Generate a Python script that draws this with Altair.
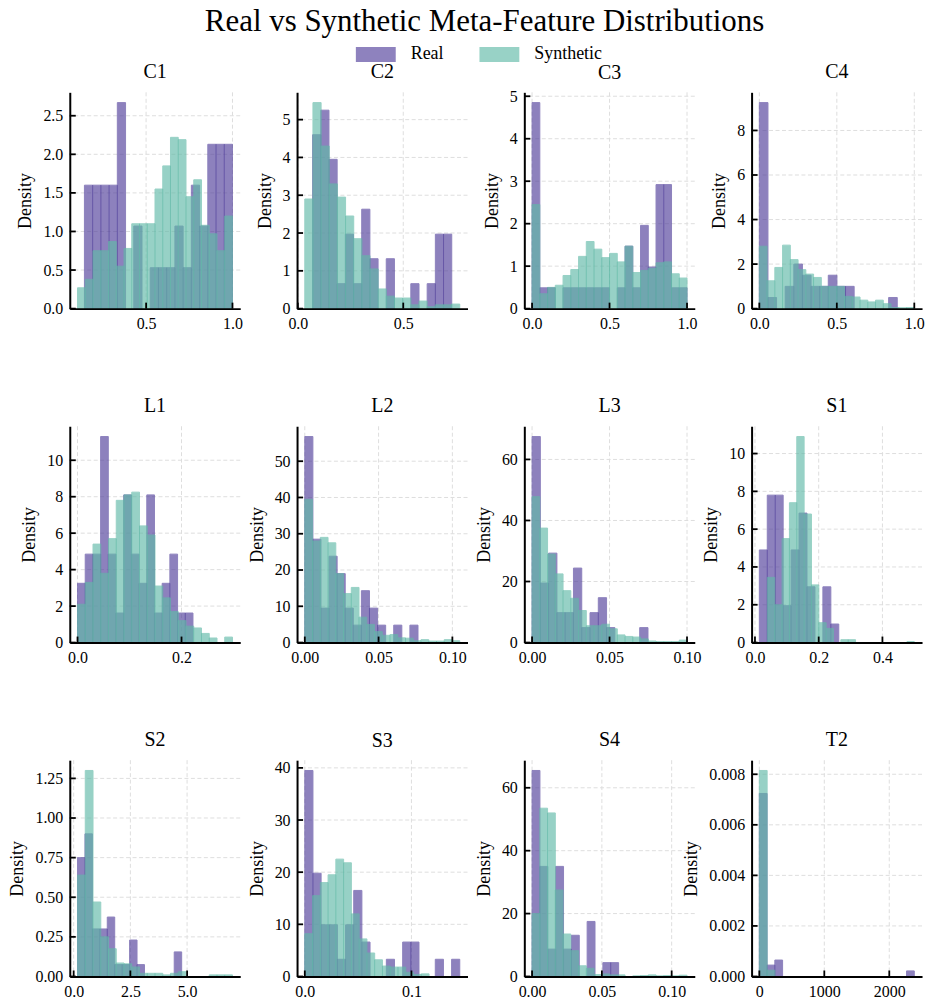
import altair as alt
import pandas as pd

# ---- histogram densities per meta-feature (bins are equal-width over each range) ----
C1_REAL = [1.6, 1.6, 1.6, 1.6, 2.67, 0, 1.07, 0, 0.53, 0.53, 0.53, 1.07, 0.53, 1.6, 1.07, 2.13, 2.13, 2.13]
C1_REAL_RANGE = (0.143, 1.0)
C1_SYN = [0.27, 0.38, 0.75, 0.75, 0.87, 0.55, 0.78, 1.1, 1.1, 1.1, 1.55, 1.85, 2.22, 2.19, 1.45, 1.67, 1.08, 0.97, 0.75, 1.2]
C1_SYN_RANGE = (0.103, 1.0)

C2_REAL = [4.6, 5.25, 3.95, 0.66, 1.97, 0.66, 2.63, 1.32, 0, 1.32, 0, 0, 0.66, 0, 0.66, 1.97, 1.97]
C2_REAL_RANGE = (0.07, 0.73)
C2_SYN = [2.9, 5.45, 4.3, 3.3, 2.95, 2.45, 1.85, 1.4, 1.05, 0.52, 0.33, 0.28, 0.28, 0.1, 0.2, 0.05, 0.1, 0.1, 0.12]
C2_SYN_RANGE = (0.033, 0.768)

C3_REAL = [4.85, 0.49, 0.49, 0, 0.49, 0.49, 0.49, 0.49, 0.49, 0.49, 0, 0.49, 1.47, 0.49, 1.96, 0.98, 2.92, 2.92, 0.49, 0.49]
C3_REAL_RANGE = (0.0, 1.0)
C3_SYN = [2.45, 0.35, 0.5, 0.55, 0.78, 0.92, 1.23, 1.58, 1.4, 1.2, 1.3, 1.1, 1.47, 0.85, 0.9, 0.95, 1.08, 1.1, 0.82, 0.72]
C3_SYN_RANGE = (0.0, 1.0)

C4_REAL = [9.25, 0.5, 0, 1.0, 2.0, 1.5, 1.0, 1.0, 1.5, 1.0, 1.0, 0, 0, 0, 0, 0.5]
C4_REAL_RANGE = (0.0, 0.89)
C4_SYN = [2.8, 1.25, 1.85, 2.85, 2.2, 1.75, 1.55, 1.4, 1.0, 1.0, 1.0, 0.55, 0.52, 0.38, 0.3, 0.38, 0.22, 0.05, 0.04, 0.05]
C4_SYN_RANGE = (0.0, 1.0)

L1_REAL = [3.25, 4.85, 4.85, 11.3, 4.85, 1.62, 8.1, 4.85, 3.25, 8.1, 1.62, 3.25, 4.85, 1.62, 1.62]
L1_REAL_RANGE = (0.0, 0.222)
L1_SYN = [2.1, 3.3, 5.4, 3.8, 5.7, 7.8, 8.1, 8.25, 6.4, 5.9, 3.1, 2.45, 1.7, 1.2, 0.9, 0.8, 0.5, 0.25, 0, 0.3]
L1_SYN_RANGE = (0.0, 0.298)

L2_REAL = [56.8, 28.5, 9.5, 23.8, 19.0, 9.5, 4.8, 14.3, 9.5, 4.8, 0, 4.8, 0, 4.8]
L2_REAL_RANGE = (0.0, 0.0767)
L2_SYN = [39.5, 28.0, 29.0, 27.5, 19.0, 13.5, 15.2, 7.0, 5.0, 3.0, 2.0, 2.2, 1.3, 1.2, 0.5, 0.8, 0.4, 0.4, 0.8, 0.5]
L2_SYN_RANGE = (0.0, 0.105)

L3_REAL = [67.5, 19.5, 29.3, 9.8, 9.8, 24.4, 4.9, 9.8, 14.7, 4.9, 0, 0, 0, 4.9]
L3_REAL_RANGE = (0.0, 0.0748)
L3_SYN = [47.8, 37.5, 29.0, 22.5, 17.0, 14.5, 10.5, 5.5, 5.5, 6.0, 4.5, 2.5, 2.0, 1.8, 1.2, 0.5, 0.3, 0.3, 0.3, 0.8]
L3_SYN_RANGE = (0.0, 0.10)

S1_REAL = [4.9, 7.8, 7.8, 1.95, 4.9, 6.85, 2.95, 0, 2.95, 0.98]
S1_REAL_RANGE = (0.0137, 0.263)
S1_SYN = [3.45, 2.0, 5.5, 7.4, 10.9, 6.8, 3.05, 1.05, 0.75, 0, 0.15, 0.15, 0, 0, 0, 0, 0, 0, 0, 0.05]
S1_SYN_RANGE = (0.039, 0.50)

S2_REAL = [0.75, 0.9, 0.3, 0.3, 0.375, 0.075, 0.075, 0.23, 0.075, 0, 0, 0, 0, 0.155]
S2_REAL_RANGE = (0.17, 4.76)
S2_SYN = [0.64, 1.3, 0.47, 0.25, 0.175, 0.085, 0.08, 0.06, 0.02, 0.02, 0.02, 0.01, 0.02, 0.03, 0, 0, 0, 0.01, 0.01, 0.01]
S2_SYN_RANGE = (0.17, 7.0)

S3_REAL = [39.5, 19.8, 9.9, 9.9, 3.3, 9.9, 16.5, 6.6, 0, 0, 3.3, 0, 6.6, 6.6, 0, 0, 3.3, 0, 3.3]
S3_REAL_RANGE = (0.0, 0.1453)
S3_SYN = [8.2, 15.5, 18.0, 19.5, 22.5, 21.8, 12.0, 7.2, 4.5, 3.2, 2.0, 1.8, 1.8, 0.8, 0.4, 0.5]
S3_SYN_RANGE = (0.0, 0.1165)

S4_REAL = [65.5, 35.0, 8.7, 35.0, 8.7, 13.1, 0, 17.5, 0, 4.4, 4.4]
S4_REAL_RANGE = (0.0, 0.062)
S4_SYN = [20.0, 53.5, 52.0, 27.5, 13.5, 8.2, 3.4, 2.6, 0.6, 0.8, 0.5, 0.5, 0, 0.2, 0.3, 0.5, 0.2, 0.3, 0.2, 0.4]
S4_SYN_RANGE = (0.0, 0.111)

T2_REAL = [0.00724, 0.00045, 0.00065, 0, 0, 0, 0, 0, 0, 0, 0, 0, 0, 0, 0, 0, 0, 0, 0, 0.00022]
T2_REAL_RANGE = (0.0, 2385.0)
T2_SYN = [0.00815, 0.00025]
T2_SYN_RANGE = (0.0, 240.0)

# ---- tick values per panel ----
C1_XTICKS = [0.5, 1.0];            C1_YTICKS = [0.0, 0.5, 1.0, 1.5, 2.0, 2.5]
C2_XTICKS = [0.0, 0.5];            C2_YTICKS = [0, 1, 2, 3, 4, 5]
C3_XTICKS = [0.0, 0.5, 1.0];       C3_YTICKS = [0, 1, 2, 3, 4, 5]
C4_XTICKS = [0.0, 0.5, 1.0];       C4_YTICKS = [0, 2, 4, 6, 8]
L1_XTICKS = [0.0, 0.2];            L1_YTICKS = [0, 2, 4, 6, 8, 10]
L2_XTICKS = [0.0, 0.05, 0.10];     L2_YTICKS = [0, 10, 20, 30, 40, 50]
L3_XTICKS = [0.0, 0.05, 0.10];     L3_YTICKS = [0, 20, 40, 60]
S1_XTICKS = [0.0, 0.2, 0.4];       S1_YTICKS = [0, 2, 4, 6, 8, 10]
S2_XTICKS = [0.0, 2.5, 5.0];       S2_YTICKS = [0.0, 0.25, 0.5, 0.75, 1.0, 1.25]
S3_XTICKS = [0.0, 0.1];            S3_YTICKS = [0, 10, 20, 30, 40]
S4_XTICKS = [0.0, 0.05, 0.10];     S4_YTICKS = [0, 20, 40, 60]
T2_XTICKS = [0, 1000, 2000];       T2_YTICKS = [0.0, 0.002, 0.004, 0.006, 0.008]

SERIES = ["Real", "Synthetic"]
TITLE = "Real vs Synthetic Meta-Feature Distributions"

# ---- styling ----
FONT = "Liberation Serif"
REAL_COLOR = "#513f9b"
SYN_COLOR = "#61baa8"
ALPHA = 0.65
GRID_COLOR = "#dedede"
W, H = 171, 217
TICK_LEN = 6
LABEL_SIZE = 16

PANELS = [
    ("C1", C1_REAL, C1_REAL_RANGE, C1_SYN, C1_SYN_RANGE, C1_XTICKS, ".1f", C1_YTICKS, ".1f"),
    ("C2", C2_REAL, C2_REAL_RANGE, C2_SYN, C2_SYN_RANGE, C2_XTICKS, ".1f", C2_YTICKS, "d"),
    ("C3", C3_REAL, C3_REAL_RANGE, C3_SYN, C3_SYN_RANGE, C3_XTICKS, ".1f", C3_YTICKS, "d"),
    ("C4", C4_REAL, C4_REAL_RANGE, C4_SYN, C4_SYN_RANGE, C4_XTICKS, ".1f", C4_YTICKS, "d"),
    ("L1", L1_REAL, L1_REAL_RANGE, L1_SYN, L1_SYN_RANGE, L1_XTICKS, ".1f", L1_YTICKS, "d"),
    ("L2", L2_REAL, L2_REAL_RANGE, L2_SYN, L2_SYN_RANGE, L2_XTICKS, ".2f", L2_YTICKS, "d"),
    ("L3", L3_REAL, L3_REAL_RANGE, L3_SYN, L3_SYN_RANGE, L3_XTICKS, ".2f", L3_YTICKS, "d"),
    ("S1", S1_REAL, S1_REAL_RANGE, S1_SYN, S1_SYN_RANGE, S1_XTICKS, ".1f", S1_YTICKS, "d"),
    ("S2", S2_REAL, S2_REAL_RANGE, S2_SYN, S2_SYN_RANGE, S2_XTICKS, ".1f", S2_YTICKS, ".2f"),
    ("S3", S3_REAL, S3_REAL_RANGE, S3_SYN, S3_SYN_RANGE, S3_XTICKS, ".1f", S3_YTICKS, "d"),
    ("S4", S4_REAL, S4_REAL_RANGE, S4_SYN, S4_SYN_RANGE, S4_XTICKS, ".2f", S4_YTICKS, "d"),
    ("T2", T2_REAL, T2_REAL_RANGE, T2_SYN, T2_SYN_RANGE, T2_XTICKS, "d", T2_YTICKS, ".3f"),
]

color_scale = alt.Scale(domain=SERIES, range=[REAL_COLOR, SYN_COLOR])
legend = alt.Legend(
    title=None, orient="none", direction="horizontal", legendX=287, legendY=-58,
    symbolType="M-1,-0.375L1,-0.375L1,0.375L-1,0.375Z", symbolSize=1600,
    symbolStrokeWidth=0, symbolOpacity=ALPHA, labelFont=FONT, labelFontSize=18,
    labelOffset=15, columnPadding=36, labelColor="black",
)


def bin_table(heights, rng, series):
    lo, hi = rng
    w = (hi - lo) / len(heights)
    rows = [
        {"series": series, "x0": lo + i * w, "x1": lo + (i + 1) * w, "d": h}
        for i, h in enumerate(heights)
        if h > 0
    ]
    return pd.DataFrame(rows)


def make_axis(values, fmt, title):
    return alt.Axis(
        values=values, format=fmt, title=title, zindex=1,
        labelFont=FONT, labelFontSize=LABEL_SIZE, labelColor="black", labelPadding=7,
        labelFlush=False, labelOverlap=False, tickSize=0,
        domainColor="black", domainWidth=2,
        titleFont=FONT, titleFontSize=18, titleFontWeight="normal",
        titleColor="black", titlePadding=8,
    )


def panel(name, real, real_rng, syn, syn_rng, xticks, xfmt, yticks, yfmt):
    lo = min(real_rng[0], syn_rng[0])
    hi = max(real_rng[1], syn_rng[1])
    m = 0.05 * (hi - lo)
    ytop = 1.05 * max(max(real), max(syn))
    xscale = alt.Scale(domain=[lo - m, hi + m], nice=False, zero=False)
    yscale = alt.Scale(domain=[0, ytop], nice=False, zero=True)

    xaxis = make_axis(xticks, xfmt, None)
    yaxis = make_axis(yticks, yfmt, "Density")

    xt = pd.DataFrame({"v": xticks})
    yt = pd.DataFrame({"v": yticks})
    # horizontal grid lines above the baseline only
    yg = pd.DataFrame({"v": [t for t in yticks if t > 0]})

    grid_x = alt.Chart(xt).mark_rule(color=GRID_COLOR, strokeDash=[4, 2.5], strokeWidth=1).encode(
        x=alt.X("v:Q", scale=xscale, axis=xaxis))
    grid_y = alt.Chart(yg).mark_rule(color=GRID_COLOR, strokeDash=[4, 2.5], strokeWidth=1).encode(
        y=alt.Y("v:Q", scale=yscale, axis=yaxis))

    def bars(df, stroke):
        return alt.Chart(df).mark_bar(opacity=ALPHA, stroke=stroke, strokeWidth=1).encode(
            x=alt.X("x0:Q", scale=xscale, axis=xaxis),
            x2="x1:Q",
            y=alt.Y("d:Q", scale=yscale, axis=yaxis),
            y2=alt.datum(0),
            color=alt.Color("series:N", scale=color_scale, legend=legend),
        )

    real_bars = bars(bin_table(real, real_rng, "Real"), REAL_COLOR)
    syn_bars = bars(bin_table(syn, syn_rng, "Synthetic"), SYN_COLOR)

    tick_x = alt.Chart(xt).mark_rule(color="black", strokeWidth=1.8).encode(
        x=alt.X("v:Q", scale=xscale, axis=xaxis),
        y=alt.value(H), y2=alt.value(H - TICK_LEN))
    tick_y = alt.Chart(yt).mark_rule(color="black", strokeWidth=1.8).encode(
        y=alt.Y("v:Q", scale=yscale, axis=yaxis),
        x=alt.value(0), x2=alt.value(TICK_LEN))

    # keep the panel title at a fixed height even when the top tick label pokes above the frame
    top_label_px = H * (1 - max(yticks) / ytop)
    overhang = max(0.0, LABEL_SIZE / 2 + 0.5 - top_label_px)

    return alt.layer(grid_x, grid_y, real_bars, syn_bars, tick_x, tick_y).properties(
        width=W, height=H,
        title=alt.TitleParams(name, font=FONT, fontSize=20, fontWeight="normal",
                              color="black", anchor="middle", offset=10 - overhang),
    )


charts = [panel(*p) for p in PANELS]

chart = alt.concat(
    *charts, columns=4, bounds="flush", spacing={"row": 118, "column": 57}
).resolve_scale(
    color="shared", x="independent", y="independent"
).properties(
    title=alt.TitleParams(TITLE, font=FONT, fontSize=31, fontWeight="normal",
                          color="black", anchor="middle", offset=-3, dx=18),
    padding={"left": 9, "top": 4, "right": 10, "bottom": 5},
    background="white",
).configure(
    font=FONT
).configure_view(
    stroke=None
).configure_axis(
    domainColor="black", domainWidth=2, tickSize=0, grid=False,
    labelFont=FONT, labelFontSize=16, labelColor="black", labelPadding=7,
    labelFlush=False, labelOverlap=False,
    titleFont=FONT, titleFontSize=18, titleFontWeight="normal", titleColor="black",
    titlePadding=8, zindex=1,
)

chart.save("out.html", embed_options={"renderer": "svg", "actions": False})
